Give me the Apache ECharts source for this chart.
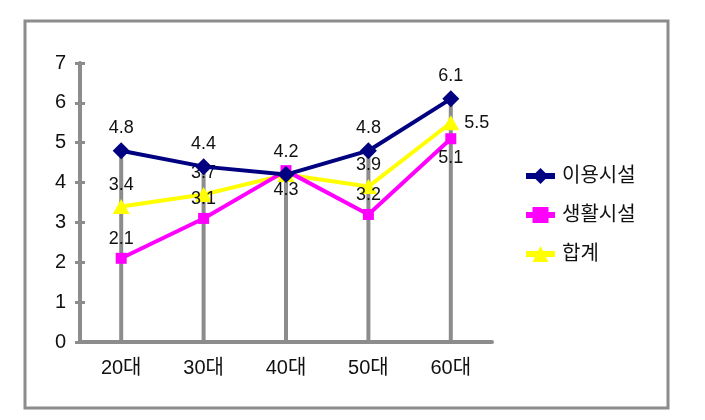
<!DOCTYPE html>
<html><head><meta charset="utf-8">
<script src="https://cdn.jsdelivr.net/npm/echarts@6/dist/echarts.min.js"></script>
<style>html,body{margin:0;padding:0;background:#fff}#c{width:705px;height:420px}</style>
</head><body><div id="c"></div>
<script>
const categories = ['20대', '30대', '40대', '50대', '60대'];
const useFacility = [4.8, 4.4, 4.2, 4.8, 6.1];
const lifeFacility = [2.1, 3.1, 4.3, 3.2, 5.1];
const total = [3.4, 3.7, 4.2, 3.9, 5.5];
const seriesNames = ['이용시설', '생활시설', '합계'];
const yTicks = [0, 1, 2, 3, 4, 5, 6, 7];

// label placement (style only); 'none' hides a label that would sit exactly on another
const usePos = ['top', 'top', 'top', 'top', 'top'];
const lifePos = ['top', 'top', 'bottom', 'top', 'bottom'];
const totalPos = ['top', 'top', 'none', 'top', 'right'];

const FONT = '"Liberation Sans", "Noto Sans CJK KR", sans-serif';
const GREY = '#8c8c8c';
const dropTop = categories.map((_, i) => Math.max(useFacility[i], lifeFacility[i], total[i]));

function withLabels(vals, pos) {
  return vals.map((v, i) => pos[i] === 'none'
    ? { value: v, label: { show: false } }
    : { value: v, label: { position: pos[i] } });
}
const labelStyle = { show: true, fontSize: 18, color: '#111', fontFamily: FONT, distance: 5 };

const chart = echarts.init(document.getElementById('c'));
chart.setOption({
  animation: false,
  backgroundColor: '#fff',
  textStyle: { fontFamily: FONT },
  graphic: [{
    type: 'rect', shape: { x: 25, y: 21, width: 643, height: 387 },
    style: { fill: 'none', stroke: GREY, lineWidth: 3 }, z: -1
  }],
  grid: { left: 80, top: 63, width: 412, height: 279, containLabel: false },
  legend: {
    orient: 'vertical', left: 518, top: 161, itemGap: 19, itemWidth: 29, itemHeight: 20,
    data: seriesNames,
    lineStyle: { width: 6 },
    textStyle: { fontSize: 20, color: '#111', fontFamily: FONT, padding: [0, 0, 0, 2] }
  },
  xAxis: {
    type: 'category', data: categories,
    axisLine: { lineStyle: { color: GREY, width: 4 } },
    axisTick: { show: false },
    axisLabel: { fontSize: 20, color: '#111', margin: 16, fontFamily: FONT },
    splitLine: { show: false }
  },
  yAxis: [{
    type: 'value', min: yTicks[0], max: yTicks[yTicks.length - 1], interval: 1,
    axisLine: { show: true, lineStyle: { color: GREY, width: 4 } },
    axisTick: { show: true, length: 5, lineStyle: { color: GREY, width: 3 } },
    axisLabel: { fontSize: 20, color: '#111', margin: 14, fontFamily: FONT },
    splitLine: { show: false }
  }, {
    type: 'value', min: yTicks[0], max: yTicks[yTicks.length - 1], interval: 1, position: 'left',
    axisLine: { show: false },
    axisTick: { show: true, inside: true, length: 5, lineStyle: { color: GREY, width: 3 } },
    axisLabel: { show: false }, splitLine: { show: false }
  }],
  series: [{
    type: 'bar', data: dropTop, barWidth: 4, itemStyle: { color: GREY },
    silent: true, z: 1, legendHoverLink: false
  }, {
    name: seriesNames[2], type: 'line', data: withLabels(total, totalPos),
    symbol: 'triangle', symbolSize: [17, 15], z: 3,
    lineStyle: { color: '#ffff00', width: 4 }, itemStyle: { color: '#ffff00' },
    label: labelStyle
  }, {
    name: seriesNames[1], type: 'line', data: withLabels(lifeFacility, lifePos),
    symbol: 'rect', symbolSize: 11, z: 4,
    lineStyle: { color: '#ff00ff', width: 4 }, itemStyle: { color: '#ff00ff' },
    label: labelStyle
  }, {
    name: seriesNames[0], type: 'line', data: withLabels(useFacility, usePos),
    symbol: 'diamond', symbolSize: 17, z: 5,
    lineStyle: { color: '#000080', width: 4 }, itemStyle: { color: '#000080' },
    label: labelStyle
  }]
});
</script></body></html>
